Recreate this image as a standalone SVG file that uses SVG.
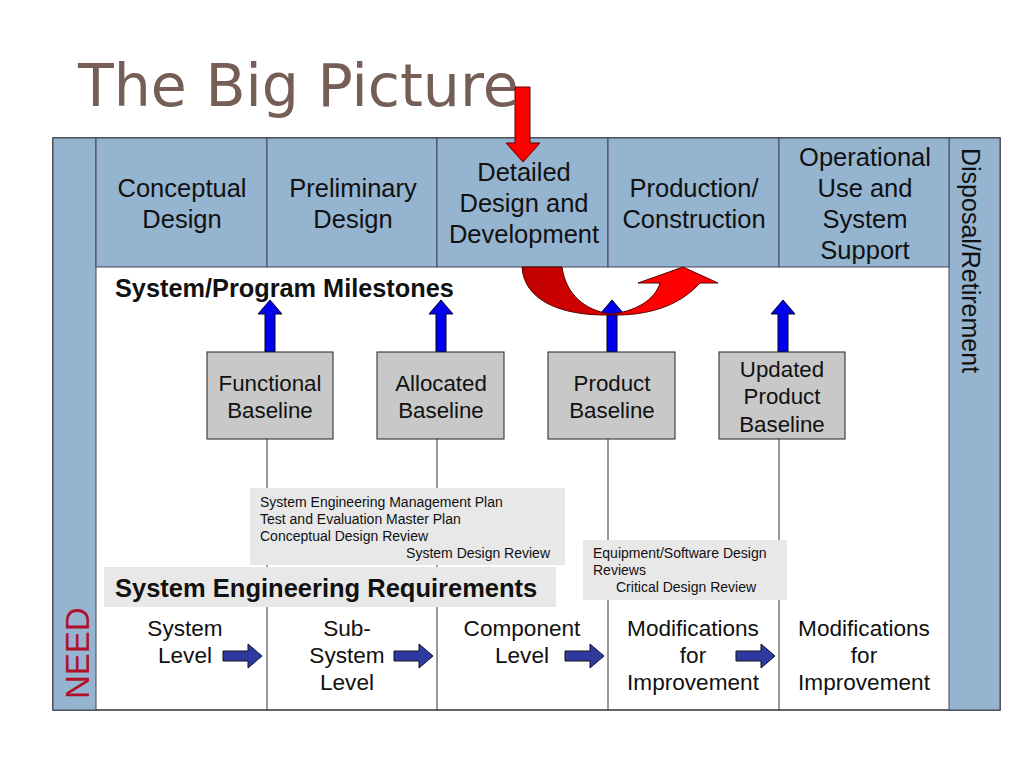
<svg xmlns="http://www.w3.org/2000/svg" width="1024" height="768" viewBox="0 0 1024 768">
<defs>
<style>
text{font-family:"Liberation Sans",Arial,sans-serif;fill:#111}
.ph{font-size:25.5px;text-anchor:middle}
.mb{font-size:22.3px;text-anchor:middle}
.lv{font-size:22.6px;text-anchor:middle}
.nt{font-size:14px}
.blue{fill:#94b4cf;stroke:#445;stroke-width:1}
.gbox{fill:#c8c8c8;stroke:#222;stroke-width:1}
.up{fill:#0000ee;stroke:#002;stroke-width:1}
.rt{fill:#2e3aa0;stroke:#112;stroke-width:1}
.ln{stroke:#333;stroke-width:1}
</style>
<linearGradient id="rg" x1="0" y1="0" x2="1" y2="0">
<stop offset="0" stop-color="#c00000"/><stop offset="0.45" stop-color="#d80000"/><stop offset="0.6" stop-color="#ff0000"/><stop offset="1" stop-color="#ff0000"/>
</linearGradient>
</defs>
<rect width="1024" height="768" fill="#fff"/>
<text x="78" y="106" style="font-family:'DejaVu Sans',sans-serif;font-size:58.5px;fill:#745e55">The Big Picture</text>

<g id="frame">
<rect x="53" y="138" width="947" height="572" fill="#fff" stroke="#333" stroke-width="1.5"/>
<rect class="blue" x="53" y="138" width="43" height="572"/>
<rect class="blue" x="949" y="138" width="51" height="572"/>
<text transform="translate(89,699) rotate(-90)" style="font-size:33px;fill:#b0102a">NEED</text>
<text transform="translate(962,148) rotate(90)" style="font-size:25px">Disposal/Retirement</text>
</g>

<g id="phases">
<rect class="blue" x="96" y="138" width="171" height="129"/>
<rect class="blue" x="267" y="138" width="170" height="129"/>
<rect class="blue" x="437" y="138" width="171" height="129"/>
<rect class="blue" x="608" y="138" width="171" height="129"/>
<rect class="blue" x="779" y="138" width="170" height="129"/>
<text class="ph" x="182" y="197">Conceptual</text><text class="ph" x="182" y="228">Design</text>
<text class="ph" x="353" y="197">Preliminary</text><text class="ph" x="353" y="228">Design</text>
<text class="ph" x="524" y="181">Detailed</text><text class="ph" x="524" y="212">Design and</text><text class="ph" x="524" y="243">Development</text>
<text class="ph" x="694" y="197">Production/</text><text class="ph" x="694" y="228">Construction</text>
<text class="ph" x="865" y="166">Operational</text><text class="ph" x="865" y="197">Use and</text><text class="ph" x="865" y="228">System</text><text class="ph" x="865" y="259">Support</text>
</g>

<g id="connectors">
<line class="ln" x1="267" y1="439" x2="267" y2="710"/>
<line class="ln" x1="437" y1="439" x2="437" y2="710"/>
<line class="ln" x1="608" y1="439" x2="608" y2="710"/>
<line class="ln" x1="779" y1="439" x2="779" y2="710"/>
<path class="up" d="M265,352 V314 H258 L270,300 L282,314 H275 V352 Z"/>
<path class="up" d="M436,352 V314 H429 L441,300 L453,314 H446 V352 Z"/>
<path class="up" d="M607,352 V314 H600 L612,300 L624,314 H617 V352 Z"/>
<path class="up" d="M778,352 V314 H771 L783,300 L795,314 H788 V352 Z"/>
<path class="rt" d="M223,651 H248 V644 L262,656 L248,668 V661 H223 Z"/>
<path class="rt" d="M394,651 H419 V644 L433,656 L419,668 V661 H394 Z"/>
<path class="rt" d="M565,651 H590 V644 L604,656 L590,668 V661 H565 Z"/>
<path class="rt" d="M736,651 H761 V644 L775,656 L761,668 V661 H736 Z"/>
<path d="M515,87 H530 V143 H540 L523,162 L506,143 H515 Z" fill="#ff0000" stroke="#600" stroke-width="1"/>
<path d="M522,267 H562 C566,295 585,310 610,314 C635,312 655,300 660,283 H638 L683,267 L718,283 H700 C680,305 650,316 610,315 C560,316 524,300 522,267 Z" fill="url(#rg)" stroke="#500" stroke-width="1"/>
</g>

<text x="115" y="297" style="font-size:25.3px;font-weight:bold">System/Program Milestones</text>

<g id="functional"><rect class="gbox" x="207" y="352" width="126" height="87"/><text class="mb" x="270" y="391">Functional</text><text class="mb" x="270" y="418">Baseline</text></g>
<g id="allocated"><rect class="gbox" x="377" y="352" width="127" height="87"/><text class="mb" x="441" y="391">Allocated</text><text class="mb" x="441" y="418">Baseline</text></g>
<g id="product"><rect class="gbox" x="548" y="352" width="127" height="87"/><text class="mb" x="612" y="391">Product</text><text class="mb" x="612" y="418">Baseline</text></g>
<g id="updated"><rect class="gbox" x="719" y="352" width="126" height="87"/><text class="mb" x="782" y="377">Updated</text><text class="mb" x="782" y="404">Product</text><text class="mb" x="782" y="432">Baseline</text></g>

<g id="note1"><rect x="250" y="488" width="315" height="77" fill="#e8e8e8"/>
<text class="nt" x="260" y="507">System Engineering Management Plan</text>
<text class="nt" x="260" y="524">Test and Evaluation Master Plan</text>
<text class="nt" x="260" y="541">Conceptual Design Review</text>
<text class="nt" x="550" y="558" text-anchor="end">System Design Review</text></g>
<g id="note2"><rect x="583" y="540" width="204" height="60" fill="#e8e8e8"/>
<text class="nt" x="593" y="558">Equipment/Software Design</text>
<text class="nt" x="593" y="575">Reviews</text>
<text class="nt" x="616" y="592">Critical Design Review</text></g>
<g id="ser"><rect x="104" y="567" width="452" height="40" fill="#e8e8e8"/>
<text x="115" y="597" style="font-size:25.5px;font-weight:bold">System Engineering Requirements</text></g>

<g id="levels">
<text class="lv" x="185" y="636">System</text><text class="lv" x="185" y="663">Level</text>
<text class="lv" x="347" y="636">Sub-</text><text class="lv" x="347" y="663">System</text><text class="lv" x="347" y="690">Level</text>
<text class="lv" x="522" y="636">Component</text><text class="lv" x="522" y="663">Level</text>
<text class="lv" x="693" y="636">Modifications</text><text class="lv" x="693" y="663">for</text><text class="lv" x="693" y="690">Improvement</text>
<text class="lv" x="864" y="636">Modifications</text><text class="lv" x="864" y="663">for</text><text class="lv" x="864" y="690">Improvement</text>
</g>
</svg>
